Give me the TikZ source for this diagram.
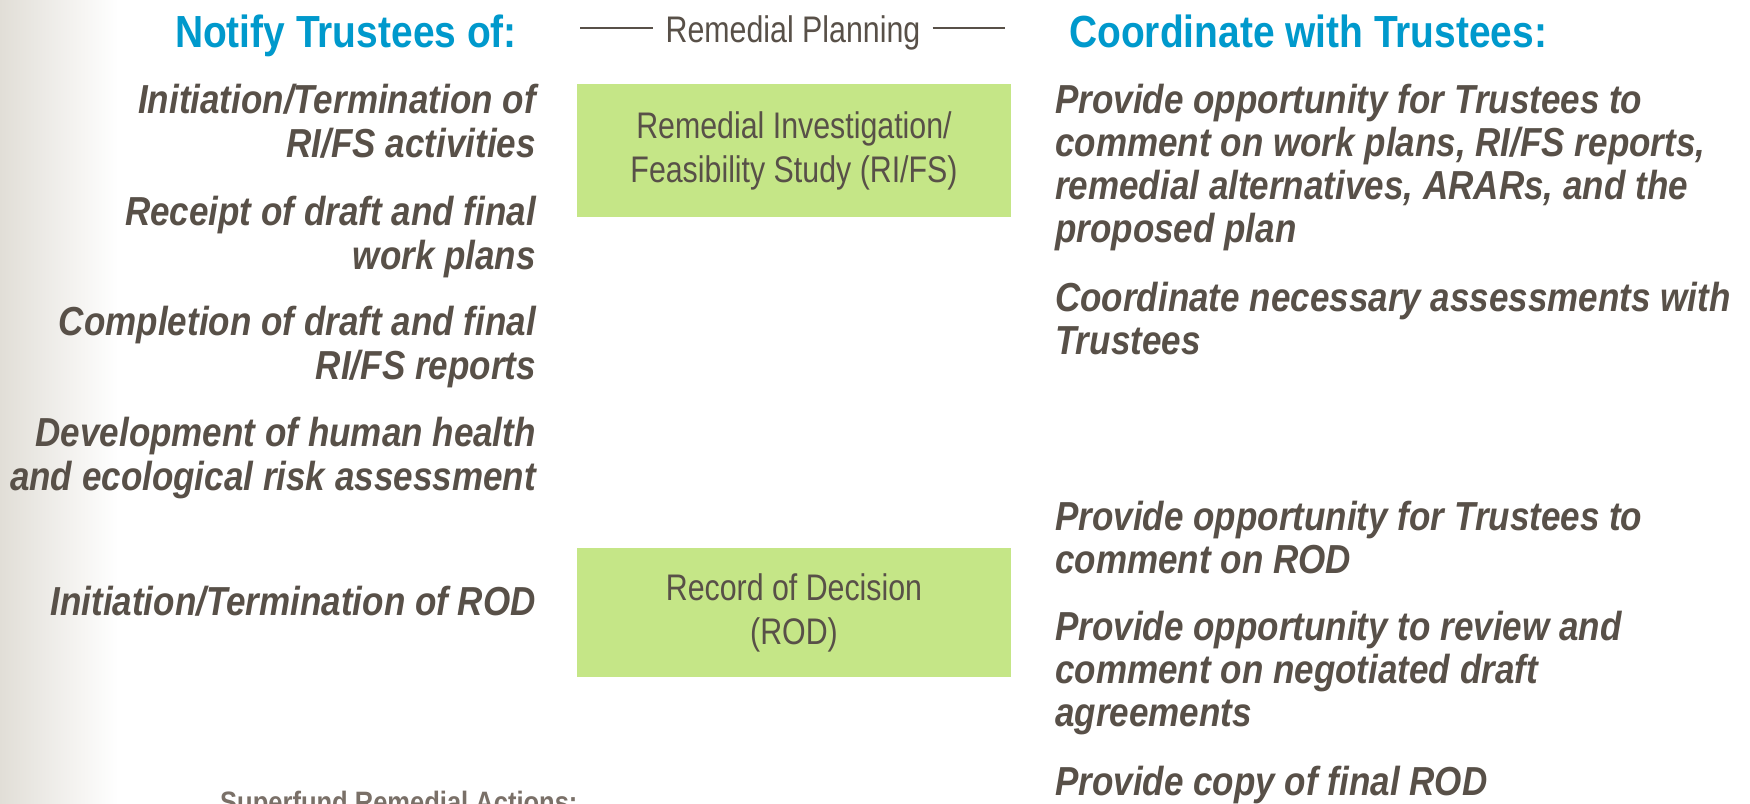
\documentclass[tikz,border=0pt]{standalone}
\usepackage{fontspec}
\setmainfont{Liberation Sans}
\newfontfamily\lnarrow[FakeStretch=0.82]{Liberation Sans}
\newfontfamily\bnarrow[FakeStretch=0.865]{Liberation Sans}
\definecolor{txt}{RGB}{88,80,72}
\definecolor{headblue}{RGB}{0,153,204}
\definecolor{boxgreen}{RGB}{197,230,135}
\definecolor{gradgray}{RGB}{225,222,215}
\definecolor{foot}{RGB}{122,112,104}
\tikzset{
  leftitem/.style={anchor=base east, align=right, inner sep=0pt, text=txt,
    font=\bnarrow\bfseries\itshape\fontsize{40.5}{44}\selectfont},
  rightitem/.style={anchor=base west, align=left, inner sep=0pt, text=txt,
    font=\bnarrow\bfseries\itshape\fontsize{40.5}{43}\selectfont},
  stagebox/.style={fill=boxgreen, minimum width=434pt, inner sep=0pt,
    align=center, text=txt, font=\lnarrow\fontsize{37}{44}\selectfont},
  headline/.style={inner sep=0pt, text=headblue, font=\bnarrow\bfseries\fontsize{45}{48}\selectfont},
  rule/.style={draw=txt, line width=1.6pt}
}
\begin{document}
\begin{tikzpicture}[x=1pt,y=-1pt]
\clip (0,0) rectangle (1750,803);
\fill[white] (0,0) rectangle (1750,803);
\shade[left color=gradgray, right color=white] (0,0) rectangle (118,803);

% headings
\node[headline, anchor=base east] (hl) at (517,47) {Notify Trustees of:};
\node[headline, anchor=base west] (hr) at (1069,47) {Coordinate with Trustees:};

% remedial planning header
\node[anchor=base, inner ysep=0pt, inner xsep=12pt, text=txt, font=\lnarrow\fontsize{37}{44}\selectfont] (rp) at (793,42) {Remedial Planning};
\coordinate (lA) at (580,28);
\coordinate (rA) at (1005,28);
\draw[rule] (lA) -- (rp.west |- lA);
\draw[rule] (rp.east |- rA) -- (rA);

% stage boxes
\node[stagebox, minimum height=133pt] (rifs) at (794,150.5) {Remedial Investigation/\\Feasibility Study (RI/FS)};
\node[stagebox, minimum height=129pt] (rod) at (794,612.5) {Record of Decision\\(ROD)};

% left items (anchored at the baseline of their last line)
\node[leftitem] (n1) at (536,157) {Initiation/Termination of\\RI/FS activities};
\node[leftitem] (n2) at (536,269) {Receipt of draft and final\\work plans};
\node[leftitem] (n3) at (536,379) {Completion of draft and final\\RI/FS reports};
\node[leftitem] (n4) at (536,490) {Development of human health\\and ecological risk assessment};
\node[leftitem] (n5) at (536,615) {Initiation/Termination of ROD};

% right items (anchored at the baseline of their last line)
\node[rightitem] (c1) at (1055,242) {Provide opportunity for Trustees to\\comment on work plans, RI/FS reports,\\remedial alternatives, ARARs, and the\\proposed plan};
\node[rightitem] (c2) at (1055,354) {Coordinate necessary assessments with\\Trustees};
\node[rightitem] (c3) at (1055,573) {Provide opportunity for Trustees to\\comment on ROD};
\node[rightitem] (c4) at (1055,726) {Provide opportunity to review and\\comment on negotiated draft\\agreements};
\node[rightitem] (c5) at (1055,795) {Provide copy of final ROD};

% footer (cut off at the bottom edge)
\node[anchor=base west, inner sep=0pt, text=foot, font=\bnarrow\bfseries\fontsize{29.5}{32}\selectfont] (ft) at (220,812) {Superfund Remedial Actions:};
\end{tikzpicture}
\end{document}
